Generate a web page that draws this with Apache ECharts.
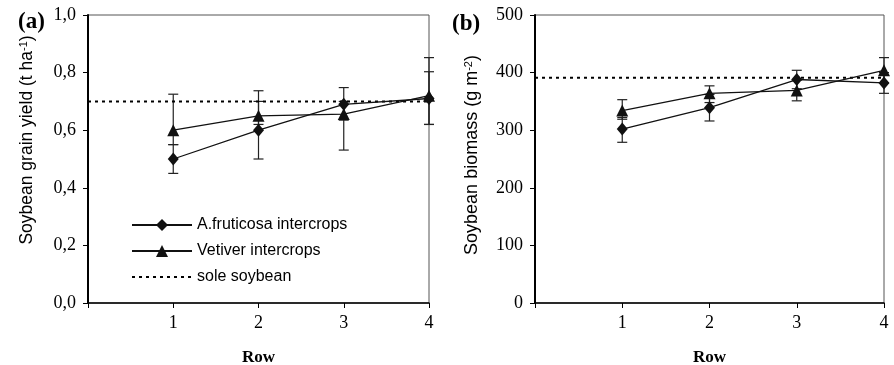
<!DOCTYPE html>
<html>
<head>
<meta charset="utf-8">
<script src="https://cdn.jsdelivr.net/npm/echarts@6/dist/echarts.min.js"></script>
<style>
  html, body { margin: 0; padding: 0; background: #fff; }
  #chart { width: 894px; height: 365px; }
</style>
</head>
<body>
<div id="chart"></div>
<script>
// rows along the x axis
const rows = [1, 2, 3, 4];
const rowTicks = ['', '1', '2', '3', '4'];

// (a) grain yield, t ha-1
const yieldAf = [0.50, 0.60, 0.69, 0.71];
const yieldAfLow = [0.45, 0.50, 0.635, 0.62];
const yieldAfHigh = [0.55, 0.70, 0.748, 0.803];
const yieldVet = [0.60, 0.65, 0.656, 0.72];
const yieldVetLow = [0.55, 0.62, 0.531, 0.62];
const yieldVetHigh = [0.725, 0.737, 0.70, 0.852];
const yieldSole = 0.70;

// (b) biomass, g m-2
const biomassAf = [302, 339, 388, 382];
const biomassAfLow = [279, 316, 372, 364];
const biomassAfHigh = [322, 362, 404, 400];
const biomassVet = [334, 364, 369, 404];
const biomassVetLow = [319, 348, 351, 382];
const biomassVetHigh = [353, 377, 387, 426];
const biomassSole = 391;

const serif = 'Liberation Serif';
const sans = 'Liberation Sans';

const pts = (ys) => rows.map((r, i) => [r, ys[i]]);
const bars = (lo, hi) => rows.map((r, i) => [r, lo[i], hi[i]]);

// error bars with caps
function errorBar(params, api) {
  const x = api.value(0);
  const lo = api.coord([x, api.value(1)]);
  const hi = api.coord([x, api.value(2)]);
  const w = 5;
  const style = { stroke: '#222', lineWidth: 1.2 };
  return {
    type: 'group',
    children: [
      { type: 'line', shape: { x1: lo[0], y1: lo[1], x2: hi[0], y2: hi[1] }, style },
      { type: 'line', shape: { x1: lo[0] - w, y1: lo[1], x2: lo[0] + w, y2: lo[1] }, style },
      { type: 'line', shape: { x1: hi[0] - w, y1: hi[1], x2: hi[0] + w, y2: hi[1] }, style }
    ]
  };
}

const lineCommon = {
  type: 'line',
  color: '#111',
  lineStyle: { color: '#111', width: 1.3 },
  itemStyle: { color: '#111' },
  z: 5
};

function xAxisOf(gridIndex) {
  return {
    type: 'value', gridIndex, min: 0, max: 4, interval: 1,
    name: 'Row', nameLocation: 'middle', nameGap: 46,
    nameTextStyle: { fontFamily: serif, fontWeight: 'bold', fontSize: 17, color: '#000' },
    axisLine: { lineStyle: { color: '#000', width: 1.5 } },
    axisTick: { show: true, length: 5, lineStyle: { color: '#000' } },
    axisLabel: { fontFamily: serif, fontSize: 18, color: '#000', margin: 11,
      formatter: (v) => rowTicks[v] },
    splitLine: { show: false }
  };
}

function yAxisOf(gridIndex, max, interval, fmt) {
  return {
    type: 'value', gridIndex, min: 0, max, interval,
    axisLine: { show: true, lineStyle: { color: '#000', width: 2 } },
    axisTick: { show: true, length: 5, lineStyle: { color: '#000' } },
    axisLabel: { fontFamily: serif, fontSize: 18, color: '#000', margin: 12, formatter: fmt },
    splitLine: { show: false }
  };
}

const chart = echarts.init(document.getElementById('chart'), null, { renderer: 'canvas' });

chart.setOption({
  animation: false,
  backgroundColor: '#fff',
  grid: [
    { left: 88, right: 465, top: 15, bottom: 62, outerBoundsMode: 'none', containLabel: false,
      show: true, borderColor: '#555', borderWidth: 1 },
    { left: 535, right: 10, top: 15, bottom: 62, outerBoundsMode: 'none', containLabel: false,
      show: true, borderColor: '#555', borderWidth: 1 }
  ],
  xAxis: [xAxisOf(0), xAxisOf(1)],
  yAxis: [
    yAxisOf(0, 1, 0.2, (v) => v.toFixed(1).replace('.', ',')),
    yAxisOf(1, 500, 100, (v) => String(v))
  ],
  legend: {
    orient: 'vertical', left: 126, top: 212,
    itemWidth: 60, itemHeight: 15, itemGap: 10,
    textStyle: { fontFamily: sans, fontSize: 16, color: '#000' },
    data: [
      'A.fruticosa intercrops',
      'Vetiver intercrops',
      { name: 'sole soybean', itemStyle: { opacity: 0 } }
    ]
  },
  graphic: [
    { type: 'text', left: 18, top: 11,
      style: { text: '(a)', font: 'bold 23px "Liberation Serif"', fill: '#000' } },
    { type: 'text', left: 452, top: 13,
      style: { text: '(b)', font: 'bold 23px "Liberation Serif"', fill: '#000' } },
    { type: 'text', x: 27, y: 140, rotation: Math.PI / 2,
      style: { text: '{t|Soybean grain yield (t ha}{s|-1}{t|)}', align: 'center', verticalAlign: 'middle',
        rich: { t: { font: '17.5px "Liberation Sans"', fill: '#000' },
                s: { font: '11px "Liberation Sans"', fill: '#000', verticalAlign: 'top', padding: [0, 0, 7, 0] } } } },
    { type: 'text', x: 472, y: 155, rotation: Math.PI / 2,
      style: { text: '{t|Soybean biomass (g m}{s|-2}{t|)}', align: 'center', verticalAlign: 'middle',
        rich: { t: { font: '18px "Liberation Sans"', fill: '#000' },
                s: { font: '11px "Liberation Sans"', fill: '#000', verticalAlign: 'top', padding: [0, 0, 7, 0] } } } }
  ],
  series: [
    // panel (a)
    { type: 'custom', xAxisIndex: 0, yAxisIndex: 0, renderItem: errorBar,
      data: bars(yieldAfLow, yieldAfHigh), z: 3 },
    { type: 'custom', xAxisIndex: 0, yAxisIndex: 0, renderItem: errorBar,
      data: bars(yieldVetLow, yieldVetHigh), z: 3 },
    { ...lineCommon, name: 'A.fruticosa intercrops', xAxisIndex: 0, yAxisIndex: 0,
      symbol: 'diamond', symbolSize: [11, 13], data: pts(yieldAf) },
    { ...lineCommon, name: 'Vetiver intercrops', xAxisIndex: 0, yAxisIndex: 0,
      symbol: 'triangle', symbolSize: [12, 12], data: pts(yieldVet) },
    { type: 'line', name: 'sole soybean', xAxisIndex: 0, yAxisIndex: 0,
      symbol: 'circle', showSymbol: false,
      color: '#000', lineStyle: { color: '#000', width: 2, type: [3, 4] },
      data: [[0, yieldSole], [4, yieldSole]], z: 4 },
    // panel (b)
    { type: 'custom', xAxisIndex: 1, yAxisIndex: 1, renderItem: errorBar,
      data: bars(biomassAfLow, biomassAfHigh), z: 3 },
    { type: 'custom', xAxisIndex: 1, yAxisIndex: 1, renderItem: errorBar,
      data: bars(biomassVetLow, biomassVetHigh), z: 3 },
    { ...lineCommon, name: 'A.fruticosa intercrops', xAxisIndex: 1, yAxisIndex: 1,
      symbol: 'diamond', symbolSize: [11, 13], data: pts(biomassAf) },
    { ...lineCommon, name: 'Vetiver intercrops', xAxisIndex: 1, yAxisIndex: 1,
      symbol: 'triangle', symbolSize: [12, 12], data: pts(biomassVet) },
    { type: 'line', name: 'sole soybean', xAxisIndex: 1, yAxisIndex: 1,
      symbol: 'circle', showSymbol: false,
      color: '#000', lineStyle: { color: '#000', width: 2, type: [3, 4] },
      data: [[0, biomassSole], [4, biomassSole]], z: 4 }
  ]
});
</script>
</body>
</html>
